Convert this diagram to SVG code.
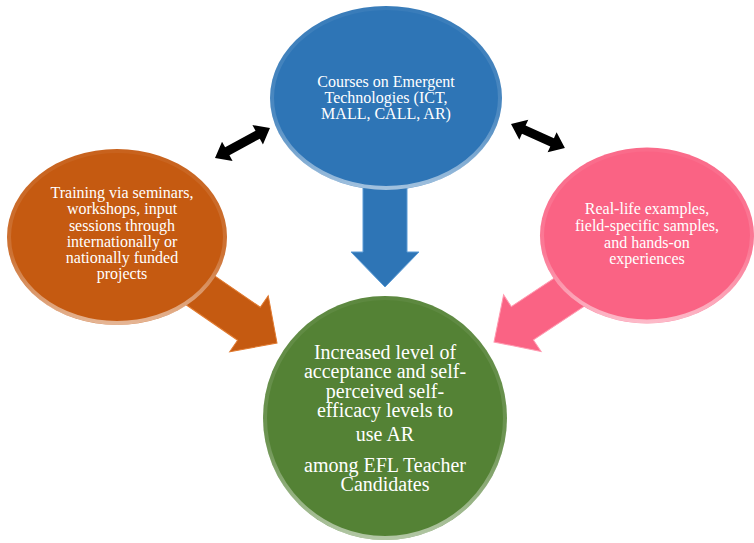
<svg xmlns="http://www.w3.org/2000/svg" width="754" height="543" viewBox="0 0 754 543">
<style>
.t{font-family:"Liberation Serif","Times New Roman",serif;fill:#ffffff;text-anchor:middle}
.s{font-size:16px}
.g{font-size:20px}
.rim{fill:none;stroke:url(#rim);stroke-width:4}
.dbl{fill:#000000}
</style>
<defs>
<linearGradient id="rim" x1="0" y1="0" x2="0" y2="1">
<stop offset="0" stop-color="#ffffff" stop-opacity="0.05"/>
<stop offset="0.6" stop-color="#ffffff" stop-opacity="0.15"/>
<stop offset="1" stop-color="#ffffff" stop-opacity="0.55"/>
</linearGradient>
<linearGradient id="ahl" x1="0" y1="0" x2="0" y2="1">
<stop offset="0" stop-color="#ffffff" stop-opacity="0.35"/>
<stop offset="0.3" stop-color="#ffffff" stop-opacity="0"/>
<stop offset="0.8" stop-color="#000000" stop-opacity="0"/>
<stop offset="1" stop-color="#000000" stop-opacity="0.12"/>
</linearGradient>
</defs>

<g id="connectors">
  <!-- blue down arrow -->
  <g id="arrow-blue">
    <polygon points="363,150 407,150 407,252 419,252 385,287 351,252 363,252" fill="#2E75B6" stroke="#5B9BD5" stroke-width="1"/>
  </g>
  <!-- orange arrow -->
  <g id="arrow-orange" transform="translate(277,343) rotate(34.5)">
    <polygon points="-150,-20 -34,-20 -34,-34 0,0 -34,34 -34,20 -150,20" fill="#C55A11" stroke="#E07A30" stroke-width="1"/>
  </g>
  <!-- pink arrow -->
  <g id="arrow-pink" transform="translate(494,342) rotate(146.5)">
    <polygon points="-150,-20 -34,-20 -34,-34 0,0 -34,34 -34,20 -150,20" fill="#FA6384" stroke="#FF9AB0" stroke-width="1"/>
  </g>
  <!-- black double arrows -->
  <g id="dbl-left" transform="translate(215,158) rotate(-28.6)">
    <polygon class="dbl" points="0,0 14,-11 14,-4.5 48.6,-4.5 48.6,-11 62.6,0 48.6,11 48.6,4.5 14,4.5 14,11"/>
  </g>
  <g id="dbl-right" transform="translate(511,124) rotate(24)">
    <polygon class="dbl" points="0,0 14,-11 14,-4.5 45,-4.5 45,-11 59,0 45,11 45,4.5 14,4.5 14,11"/>
  </g>
</g>

<g id="node-blue">
  <ellipse cx="386" cy="98" rx="116" ry="92" fill="#2E75B6"/>
  <ellipse class="rim" cx="386" cy="98" rx="114" ry="90"/>
  <text class="t s" x="386" y="87">Courses on Emergent</text>
  <text class="t s" x="386" y="103">Technologies (ICT,</text>
  <text class="t s" x="386" y="118.5">MALL, CALL, AR)</text>
</g>

<g id="node-orange">
  <ellipse cx="117" cy="237" rx="110" ry="88" fill="#C55A11"/>
  <ellipse class="rim" cx="117" cy="237" rx="108" ry="86"/>
  <text class="t s" x="122" y="198">Training via seminars,</text>
  <text class="t s" x="122" y="214">workshops, input</text>
  <text class="t s" x="122" y="230.5">sessions through</text>
  <text class="t s" x="122" y="246.5">internationally or</text>
  <text class="t s" x="122" y="263">nationally funded</text>
  <text class="t s" x="122" y="279">projects</text>
</g>

<g id="node-pink">
  <ellipse cx="647" cy="235.5" rx="107" ry="88" fill="#FA6384"/>
  <ellipse class="rim" cx="647" cy="235.5" rx="105" ry="86"/>
  <text class="t s" x="647" y="214">Real-life examples,</text>
  <text class="t s" x="647" y="231">field-specific samples,</text>
  <text class="t s" x="647" y="247.5">and hands-on</text>
  <text class="t s" x="647" y="263.5">experiences</text>
</g>

<g id="node-green">
  <circle cx="385" cy="418" r="122" fill="#548235"/>
  <circle class="rim" cx="385" cy="418" r="120"/>
  <text class="t g" x="385" y="358.5">Increased level of</text>
  <text class="t g" x="385" y="378">acceptance and self-</text>
  <text class="t g" x="385" y="397.5">perceived self-</text>
  <text class="t g" x="385" y="417">efficacy levels to</text>
  <text class="t g" x="385" y="441">use AR</text>
  <text class="t g" x="385" y="471.5">among EFL Teacher</text>
  <text class="t g" x="385" y="491">Candidates</text>
</g>
</svg>
